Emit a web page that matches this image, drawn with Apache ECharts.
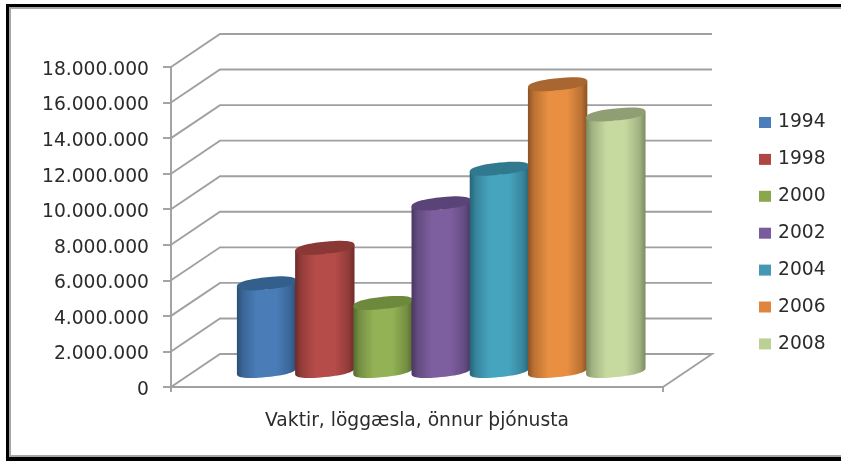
<!DOCTYPE html>
<html>
<head>
<meta charset="utf-8">
<style>html,body{margin:0;padding:0;background:#fff}#c{width:841px;height:461px;filter:blur(0.4px)}</style>
<script src="https://cdn.jsdelivr.net/npm/echarts@6/dist/echarts.min.js"></script>
</head>
<body>
<div id="c"></div>
<script>
const categories = ['Vaktir, löggæsla, önnur þjónusta'];
const years = ['1994','1998','2000','2002','2004','2006','2008'];
const values = [4900000, 6900000, 3800000, 9400000, 11350000, 16100000, 14400000];
const tickValues = [0,2000000,4000000,6000000,8000000,10000000,12000000,14000000,16000000,18000000];
const legendColors = ['#4a7ebb','#ae4744','#8ba74e','#7a5b9c','#4399b3','#e0853f','#bccf94'];
const midColors = ['#4a7db8','#b64c49','#93b255','#7d5e9e','#47a4be','#e88f42','#c6d99f'];
const edgeColors = ['#2b4d75','#6e2b29','#55692f','#483760','#266478','#8c5223','#7c8a62'];
const capColors = ['#325f8c','#8a3835','#6d8a3c','#5a4477','#30798f','#a96631','#909f73'];

const DX = 49, DY = -33;
const font = '"DejaVu Sans"';
const lineColor = '#a0a0a0';
const lineW = 1.9;

function ellipse(cx, cy, a, b, k, from, to, n) {
  const pts = [];
  const pow = v => Math.sign(v) * Math.pow(Math.abs(v), 0.85);
  for (let i = 0; i <= n; i++) {
    const t = from + (to - from) * i / n;
    const c = pow(Math.cos(t)), s = pow(Math.sin(t));
    pts.push([cx + a * c, cy + b * s - k * a * c]);
  }
  return pts;
}

function cylinderRender(idx) {
  return function (params, api) {
    const top = api.coord([0, api.value(1)]);
    const base = api.coord([0, 0]);
    const catW = api.size([1, 0])[0];
    const slotW = catW * 0.1183;
    const left = params.coordSys.x + 66;
    const cx = left + slotW * (idx + 0.5) + 0.5;
    const a = 29.7, b = 6.1, k = 0.1;
    const ty = top[1] + DY / 2, by = base[1] + DY / 2 + 0.5;
    const body = ellipse(cx, by, a, b, k, Math.PI, 0, 32)
      .concat(ellipse(cx, ty, a, b, k, 0, Math.PI, 2));
    const soft = echarts.color.lerp(0.5, [edgeColors[idx], midColors[idx]]);
    const grad = new echarts.graphic.LinearGradient(0, 0, 1, 0, [
      { offset: 0, color: edgeColors[idx] },
      { offset: 0.1, color: soft },
      { offset: 0.34, color: midColors[idx] },
      { offset: 0.66, color: midColors[idx] },
      { offset: 0.9, color: soft },
      { offset: 1, color: edgeColors[idx] }
    ]);
    return {
      type: 'group',
      children: [
        { type: 'polygon', shape: { points: body }, style: { fill: grad } },
        { type: 'polygon', shape: { points: ellipse(cx, ty, a, b, k, 0, Math.PI * 2, 48) }, style: { fill: capColors[idx] } }
      ]
    };
  };
}

function wallRender(params, api) {
  const p = api.coord([0, api.value(1)]);
  const x0 = params.coordSys.x, x1 = x0 + params.coordSys.width;
  const pts = [[x0, p[1]], [x0 + DX, p[1] + DY], [x1 + DX, p[1] + DY]];
  if (api.value(1) === 0) pts.push([x1, p[1]]);
  return {
    type: 'polyline',
    shape: { points: pts },
    style: { stroke: lineColor, lineWidth: lineW, fill: 'none' }
  };
}

const wallData = tickValues.map(v => [0, v]);
const series = [{
  type: 'custom', name: 'wall', renderItem: wallRender, data: wallData,
  encode: { x: 0, y: 1 }, silent: true, z: 1
}].concat(years.map((y, i) => ({
  type: 'custom', name: y, renderItem: cylinderRender(i),
  data: [[0, values[i]]], encode: { x: 0, y: 1 },
  itemStyle: { color: legendColors[i] }, z: 3 + i
})));

const chart = echarts.init(document.getElementById('c'), null, { renderer: 'canvas' });
chart.setOption({
  animation: false,
  backgroundColor: '#fff',
  grid: { left: 171, right: 178, top: 67, bottom: 74 },
  xAxis: {
    type: 'category', data: categories,
    axisLine: { lineStyle: { color: lineColor, width: lineW } },
    axisTick: { show: true, length: 5, lineStyle: { color: lineColor, width: lineW } },
    axisLabel: { color: '#2b2b2b', fontFamily: font, fontSize: 18.7, margin: 25 }
  },
  yAxis: {
    type: 'value', min: 0, max: 18000000, interval: 2000000,
    axisLine: { show: true, lineStyle: { color: lineColor, width: lineW } },
    axisTick: { show: true, length: 8, lineStyle: { color: lineColor, width: lineW } },
    splitLine: { show: false },
    axisLabel: {
      color: '#2b2b2b', fontFamily: font, fontSize: 18.7, margin: 22,
      verticalAlign: 'top', lineHeight: 6,
      formatter: v => String(v).replace(/\B(?=(\d{3})+(?!\d))/g, '.')
    }
  },
  legend: {
    orient: 'vertical', left: 759, top: 113, data: years,
    icon: 'rect', itemWidth: 12, itemHeight: 11, itemGap: 17.9,
    textStyle: { color: '#2b2b2b', fontFamily: font, fontSize: 18.7, padding: [0, 0, 0, 2] },
    padding: 0
  },
  tooltip: { show: false },
  series: series,
  graphic: [
    { type: 'polyline', silent: true, z: 100, shape: { points: [[10, 457], [10, 8], [841, 8]] }, style: { stroke: '#a6a6a6', lineWidth: 2, fill: 'none' } },
    { type: 'rect', silent: true, z: 100, shape: { x: 10, y: 455, width: 831, height: 2 }, style: { fill: '#a6a6a6' } },
    { type: 'rect', silent: true, z: 101, shape: { x: 6, y: 4, width: 3, height: 457 }, style: { fill: '#000' } },
    { type: 'rect', silent: true, z: 101, shape: { x: 6, y: 4, width: 835, height: 3 }, style: { fill: '#000' } },
    { type: 'rect', silent: true, z: 101, shape: { x: 6, y: 457, width: 835, height: 4 }, style: { fill: '#000' } }
  ]
});
</script>
</body>
</html>
